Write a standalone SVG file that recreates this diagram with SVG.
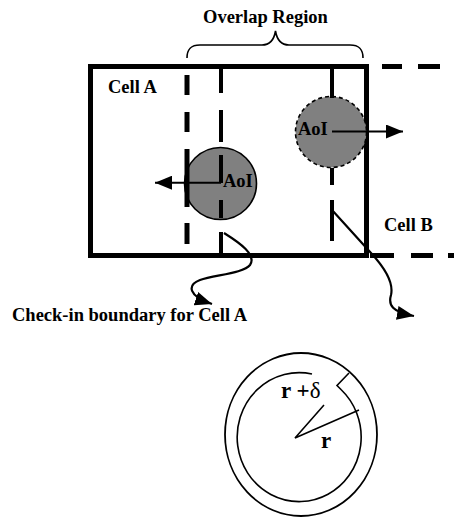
<svg xmlns="http://www.w3.org/2000/svg" width="454" height="517" viewBox="0 0 454 517">
<style>
text{font-family:"Liberation Serif","Times New Roman",serif;font-weight:bold;fill:#000}
.lbl{font-size:18.5px}
.thin{fill:none;stroke:#000;stroke-width:1.6}
.bold{stroke:#000;stroke-linecap:butt}
</style>
<defs>
<marker id="ah" markerUnits="userSpaceOnUse" markerWidth="20" markerHeight="14" refX="17" refY="7" orient="auto">
<path d="M0,0 L17,7 L0,14 z" fill="#000"/>
</marker>
</defs>
<g id="cellA">
<rect x="90.5" y="66.5" width="276" height="189" fill="none" stroke="#000" stroke-width="5"/>
<text class="lbl" x="108" y="93">Cell A</text>
</g>
<g id="cellB">
<g class="bold" stroke-width="5">
<line x1="382" y1="66.5" x2="402" y2="66.5"/>
<line x1="418" y1="66.5" x2="440" y2="66.5"/>
<line x1="370" y1="255.5" x2="394" y2="255.5"/>
<line x1="411" y1="255.5" x2="433" y2="255.5"/>
<line x1="448" y1="255.5" x2="454" y2="255.5"/>
</g>
<text class="lbl" x="384" y="231">Cell B</text>
</g>
<g id="aoiA">
<circle cx="220.5" cy="183.5" r="36" fill="#808080" stroke="#000" stroke-width="1.6"/>
</g>
<g id="aoiB">
<circle cx="331" cy="132" r="35.5" fill="#808080" stroke="#000" stroke-width="1.6" stroke-dasharray="4,3"/>
</g>
<g id="boundaries">
<g class="bold" stroke-width="5">
<line x1="187" y1="75" x2="187" y2="95"/>
<line x1="187" y1="112" x2="187" y2="132"/>
<line x1="187" y1="149" x2="187" y2="207"/>
<line x1="187" y1="223" x2="187" y2="244"/>
</g>
<g class="bold" stroke-width="4">
<line x1="221" y1="66" x2="221" y2="93"/>
<line x1="221" y1="110" x2="221" y2="142"/>
<line x1="221" y1="155" x2="221" y2="183"/>
<line x1="221" y1="200" x2="221" y2="218"/>
<line x1="221" y1="232" x2="221" y2="256"/>
<line x1="332" y1="66" x2="332" y2="98"/>
<line x1="332" y1="168" x2="332" y2="185"/>
<line x1="332" y1="200" x2="332" y2="241"/>
</g>
</g>
<g id="aoiLabels">
<text class="lbl" x="223" y="187">AoI</text>
<text class="lbl" x="298" y="135">AoI</text>
</g>
<g id="overlap">
<path class="thin" d="M187,58 C187,50 190,45 200,45 L262,45 C270,45 274,40 275.5,31 C277,40 281,45 289,45 L350,45 C360,45 363,50 363,58"/>
<text class="lbl" x="203" y="23">Overlap Region</text>
</g>
<g id="connectors">
<line x1="221" y1="182.7" x2="155" y2="182.7" stroke="#000" stroke-width="2" marker-end="url(#ah)"/>
<line x1="332" y1="131.5" x2="403" y2="131.5" stroke="#000" stroke-width="2" marker-end="url(#ah)"/>
<path d="M224,233 C240,243 257,255 250,265 C244,273 215,275 200,280 C187,285 188,296 212,304" fill="none" stroke="#000" stroke-width="2.2" marker-end="url(#ah)"/>
<path d="M332,210 L371,253 C384,267 394,282 391,295 C388,305 392,312 414,316" fill="none" stroke="#000" stroke-width="2.2" marker-end="url(#ah)"/>
</g>
<g id="checkin">
<text class="lbl" x="12" y="321">Check-in boundary for Cell A</text>
</g>
<g id="radius">
<ellipse cx="301" cy="434.5" rx="76" ry="81.5" fill="none" stroke="#000" stroke-width="1.8"/>
<path class="thin" stroke-width="1.8" d="M312,374 A62,64.5 0 1 0 341,389.5 L337,385.5 L349,373"/>
<path class="thin" stroke-width="1.8" d="M324,405 L295,438 L359,410"/>
<text x="281" y="398" font-size="23">r +<tspan font-weight="normal">δ</tspan></text>
<text x="321" y="448" font-size="23">r</text>
</g>
</svg>
